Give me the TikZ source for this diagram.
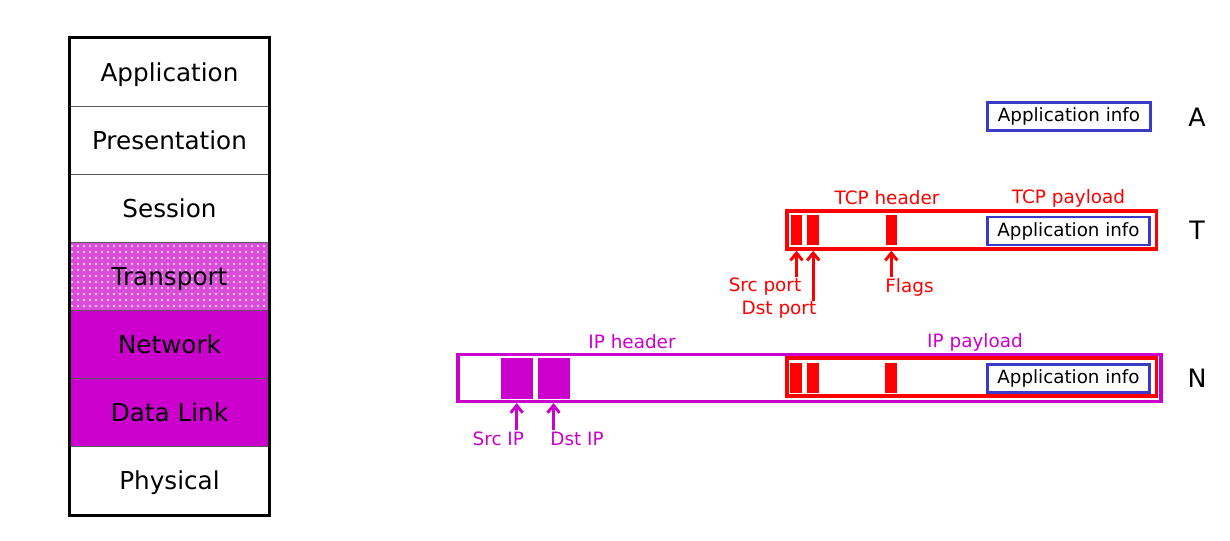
\documentclass[tikz,border=0pt]{standalone}
\usepackage{fontspec}
\setmainfont{DejaVu Sans}
\usetikzlibrary{arrows.meta,patterns}
\definecolor{osimag}{RGB}{204,0,204}
\definecolor{pktred}{RGB}{255,0,0}
\definecolor{appblue}{RGB}{58,58,196}
\pgfdeclarepatternformonly{speckle}{\pgfqpoint{-1pt}{-1pt}}{\pgfqpoint{1pt}{1pt}}{\pgfqpoint{4.5pt}{4.5pt}}{%
  \pgfpathrectangle{\pgfqpoint{-0.9pt}{-0.3pt}}{\pgfqpoint{1.8pt}{0.6pt}}%
  \pgfpathrectangle{\pgfqpoint{-0.3pt}{-0.9pt}}{\pgfqpoint{0.6pt}{1.8pt}}%
  \pgfusepath{fill}}
\tikzset{layblank/.style={draw=black!65,line width=.7pt,minimum width=149.25pt,minimum height=51.1pt,inner sep=0pt,
    text height=13.5pt,text depth=0pt,font=\fontsize{18.5}{20}\selectfont},
  laydots/.style={layblank,fill=osimag!70!white,postaction={pattern=speckle,pattern color=white}},
  layfull/.style={layblank,fill=osimag},
  field/.style={fill=pktred,inner sep=0pt,minimum width=8.7pt,minimum height=22.5pt},
  ipfield/.style={fill=osimag,inner sep=0pt,minimum width=24pt,minimum height=30.5pt},
  appinfo/.style={draw=appblue,line width=2.2pt,fill=white,minimum width=122pt,minimum height=21pt,inner sep=0pt,font=\fontsize{13.7}{15}\selectfont},
  tcpframe/.style={draw=pktred,line width=2.6pt,minimum width=277pt,minimum height=28.5pt,inner sep=0pt},
  ipframe/.style={draw=osimag,line width=2.4pt,minimum width=527.25pt,minimum height=35.25pt,inner sep=0pt},
  tag/.style={font=\fontsize{13.8}{15}\selectfont},
  lvl/.style={font=\fontsize{19}{21}\selectfont},
  arrow/.style={-{Straight Barb[length=5.5pt,width=9pt]},line width=2.2pt}}

\begin{document}
\begin{tikzpicture}[x=0.75pt,y=-0.75pt]
  \path[use as bounding box] (0,0) rectangle (1230,540);
  % OSI stack
  \node[layblank] (app) at (169.5,72.1) {Application};
  \node[layblank] (pres) at (169.5,140.2) {Presentation};
  \node[layblank] (sess) at (169.5,208.3) {Session};
  \node[laydots] (trans) at (169.5,276.4) {Transport};
  \node[layfull] (net) at (169.5,344.6) {Network};
  \node[layfull] (link) at (169.5,412.7) {Data Link};
  \node[layblank] (phys) at (169.5,480.9) {Physical};
  \draw[line width=2.6pt] (app.north west) rectangle (phys.south east);

  % application row
  \node[appinfo] (appA) at (1069,116.5) {Application info};
  \node[lvl] (lvlA) at (1197,117) {A};

  % transport row
  \node[tcpframe] (tcp) at (971.7,230) {};
  \node[field] (sp) at (796.5,230) {};
  \node[field] (dp) at (813.2,230) {};
  \node[field] (fl) at (891.3,230) {};
  \node[appinfo] (appT) at (1068.5,231) {Application info};
  \node[tag,text=pktred] (tcph) at (887,198) {TCP header};
  \node[tag,text=pktred] (tcpp) at (1068.5,198) {TCP payload};
  \node[tag,text=pktred] (splbl) at (765,287) {Src port};
  \node[tag,text=pktred] (dplbl) at (779,310) {Dst port};
  \node[tag,text=pktred] (fllbl) at (909.5,287) {Flags};
  \draw[arrow,pktred] (sp |- 0,277) -- (sp |- tcp.south);
  \draw[arrow,pktred] (dp |- 0,301) -- (dp |- tcp.south);
  \draw[arrow,pktred] (fl |- 0,277) -- (fl |- tcp.south);
  \node[lvl] (lvlT) at (1197,230) {T};

  % network row
  \node[ipframe] (ipfr) at (809.5,378) {};
  \node[ipfield] (sip) at (516.7,378.3) {};
  \node[ipfield] (dip) at (553.5,378.3) {};
  \node[tcpframe] (tcpN) at (971.7,377.2) {};
  \node[field] (spN) at (796.2,377.7) {};
  \node[field] (dpN) at (813.2,377.7) {};
  \node[field] (flN) at (891.2,377.7) {};
  \node[appinfo] (appN) at (1068.5,378.5) {Application info};
  \node[tag,text=osimag] (iph) at (632,342) {IP header};
  \node[tag,text=osimag] (ipp) at (975,342) {IP payload};
  \node[tag,text=osimag] (siplbl) at (498.3,439) {Src IP};
  \node[tag,text=osimag] (diplbl) at (577,439) {Dst IP};
  \draw[arrow,osimag] (sip |- 0,430) -- (sip |- ipfr.south);
  \draw[arrow,osimag] (dip |- 0,430) -- (dip |- ipfr.south);
  \node[lvl] (lvlN) at (1197,378) {N};
\end{tikzpicture}
\end{document}
